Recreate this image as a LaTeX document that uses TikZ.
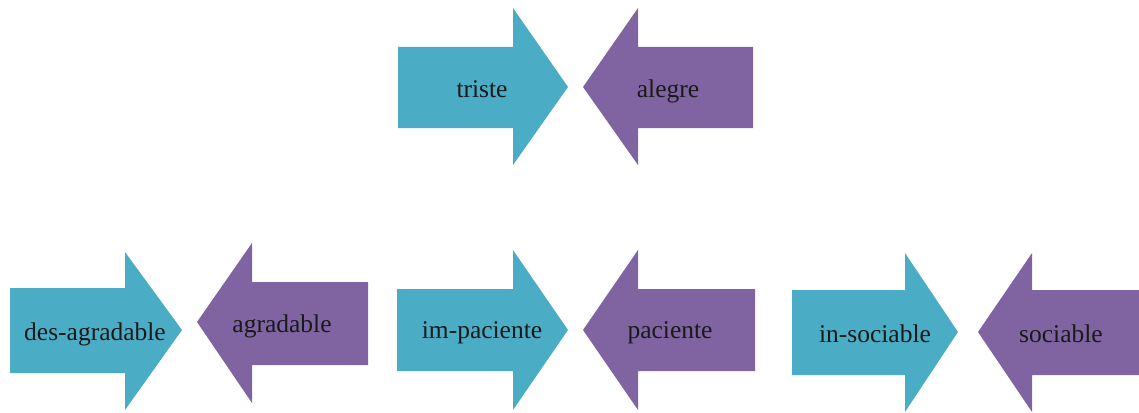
\documentclass[tikz,border=0pt]{standalone}
\usepackage{fontspec}
\setmainfont{Liberation Serif}
\usepackage{tikz}
\usepackage{xcolor}

\definecolor{arrowaqua}{HTML}{4BACC6}
\definecolor{arrowviolet}{HTML}{8064A2}

\tikzset{
    fwd/.style={fill=arrowaqua},
    back/.style={fill=arrowviolet},
    word/.style={font=\fontsize{25.5}{30}\selectfont, text=black!90, anchor=base}
}

\begin{document}
\begin{tikzpicture}[x=1pt,y=-1pt]
    \useasboundingbox (0,0) rectangle (1139,412);

    % Top pair
    \fill[fwd] (398,47) -- (513,47) -- (513,8) -- (568,87) -- (513,165) -- (513,128) -- (398,128) -- cycle;
    \node[word] (triste) at (482,97) {triste};

    \fill[back] (753,47) -- (638,47) -- (638,8) -- (583,87) -- (638,165) -- (638,128) -- (753,128) -- cycle;
    \node[word] (alegre) at (668,97) {alegre};

    % Bottom row, first pair
    \fill[fwd] (10,288) -- (125,288) -- (125,252) -- (182,330) -- (125,410) -- (125,373) -- (10,373) -- cycle;
    \node[word] (desagradable) at (95,340) {des-agradable};

    \fill[back] (368,282) -- (252,282) -- (252,243) -- (197,322) -- (252,403) -- (252,365) -- (368,365) -- cycle;
    \node[word] (agradable) at (282,332) {agradable};

    % Bottom row, second pair
    \fill[fwd] (397,289) -- (513,289) -- (513,250) -- (568,330) -- (513,410) -- (513,371) -- (397,371) -- cycle;
    \node[word] (impaciente) at (482,338) {im-paciente};

    \fill[back] (755,289) -- (638,289) -- (638,250) -- (583,330) -- (638,410) -- (638,371) -- (755,371) -- cycle;
    \node[word] (paciente) at (670,338) {paciente};

    % Bottom row, third pair
    \fill[fwd] (792,290) -- (905,290) -- (905,253) -- (958,332) -- (905,412) -- (905,375) -- (792,375) -- cycle;
    \node[word] (insociable) at (875,342) {in-sociable};

    \fill[back] (1145,290) -- (1032,290) -- (1032,253) -- (978,332) -- (1032,412) -- (1032,375) -- (1145,375) -- cycle;
    \node[word] (sociable) at (1061,342) {sociable};
\end{tikzpicture}
\end{document}
